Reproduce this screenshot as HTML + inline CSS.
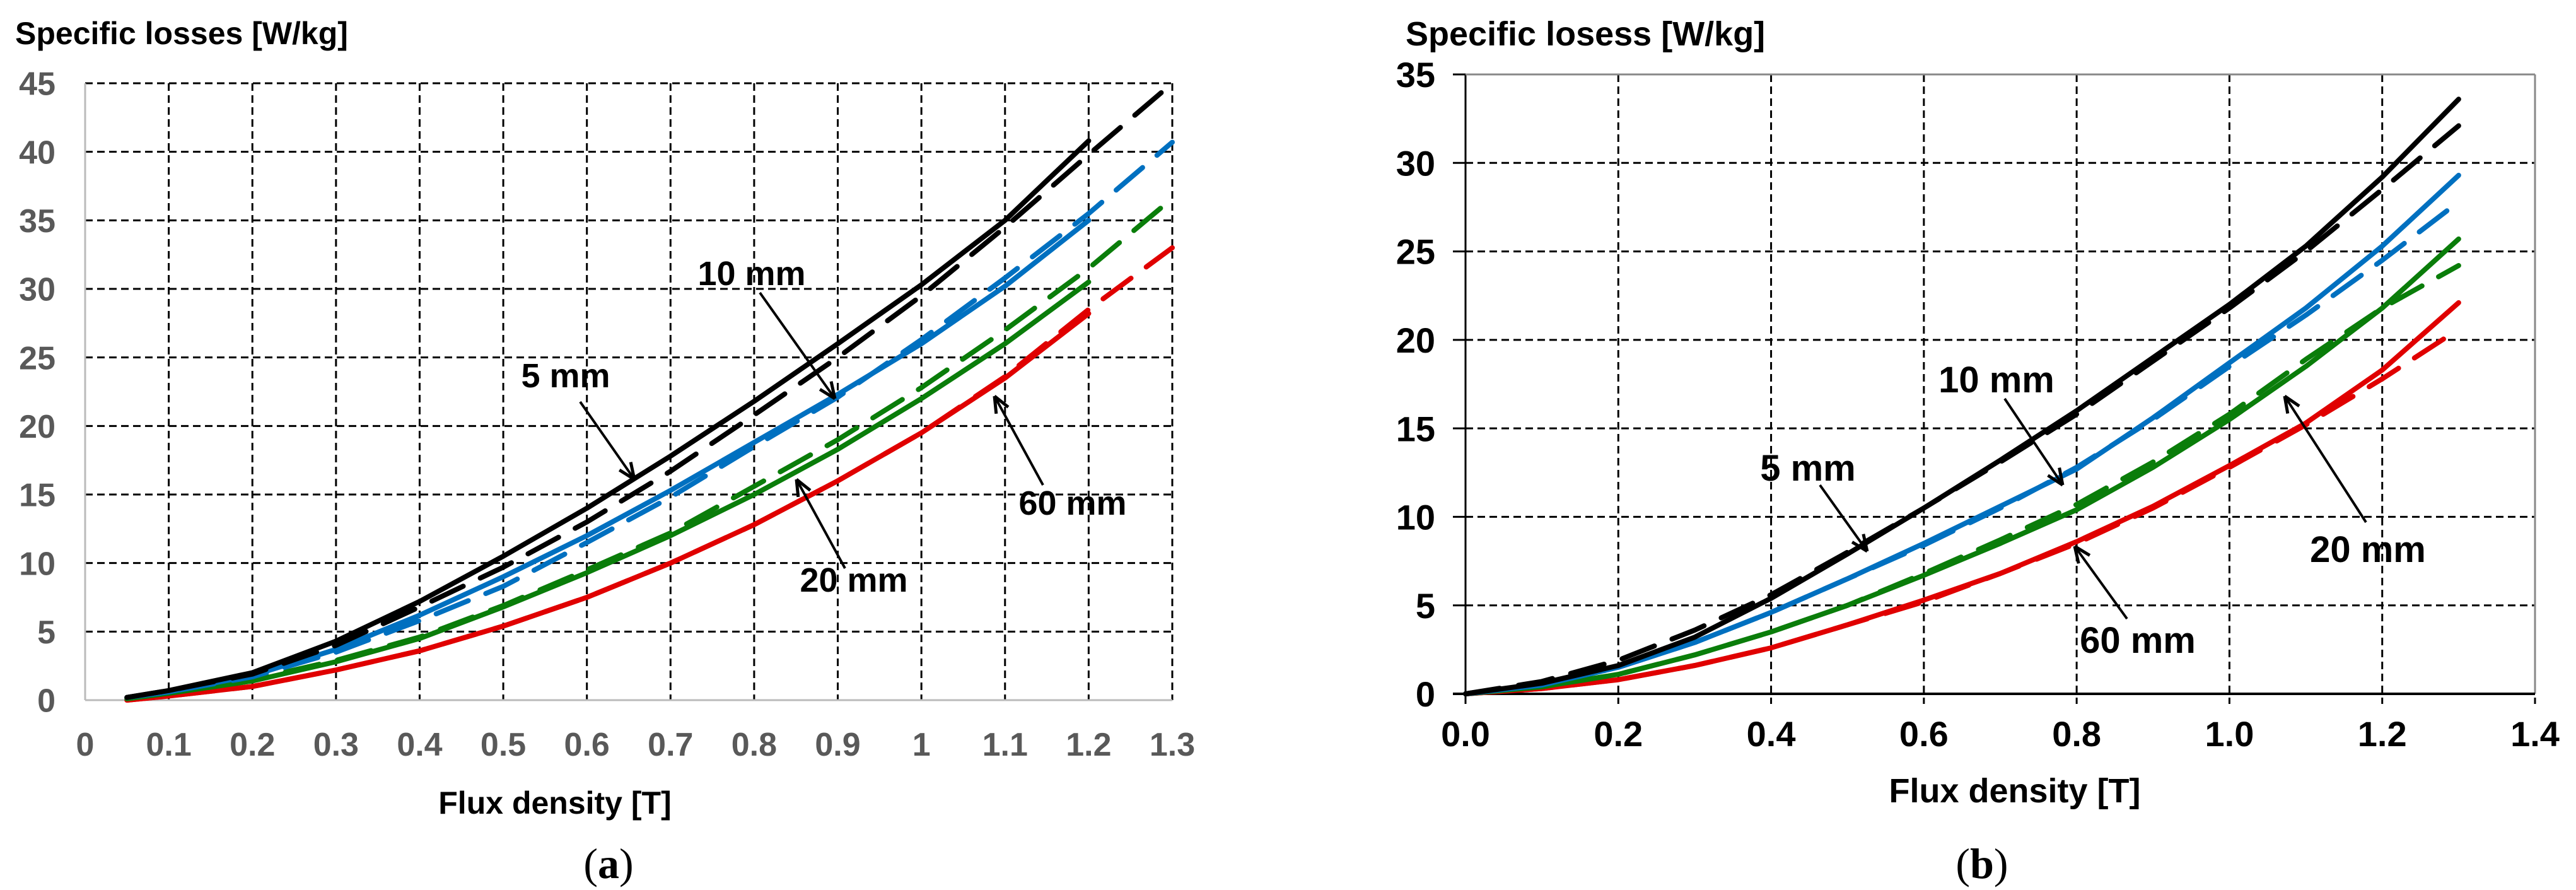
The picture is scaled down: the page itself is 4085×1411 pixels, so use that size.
<!DOCTYPE html>
<html><head><meta charset="utf-8"><style>
html,body{margin:0;padding:0;background:#fff;}
svg{display:block;}
text{font-family:"Liberation Sans Narrow","Liberation Sans",sans-serif;font-weight:bold;}
text.cap{font-family:"Liberation Serif",serif;font-weight:normal;}
</style></head><body>
<svg id="svg" width="4085" height="1411" viewBox="0 0 4085 1411" xmlns="http://www.w3.org/2000/svg">
<g id="ga"></g>
<g id="gb"></g>
</svg>
<script>
const NS="http://www.w3.org/2000/svg";
// ---- Chart A data ----
const aXTicks=["0","0.1","0.2","0.3","0.4","0.5","0.6","0.7","0.8","0.9","1","1.1","1.2","1.3"];
const aYTicks=["0","5","10","15","20","25","30","35","40","45"];
const aB=[0.05,0.1,0.2,0.3,0.4,0.5,0.6,0.7,0.8,0.9,1.0,1.1,1.2,1.3];
const a5s=[0.2,0.7,2.0,4.3,7.2,10.5,14.0,17.8,21.8,26.0,30.3,35.0,40.8];
const a5d=[0.2,0.7,1.9,4.0,6.8,9.7,13.0,16.7,20.8,25.0,29.5,34.5,39.8,45.0];
const a10s=[0.2,0.6,1.8,3.7,6.2,9.0,12.0,15.3,18.8,22.3,26.0,30.2,35.0];
const a10d=[0.2,0.6,1.7,3.5,5.8,8.3,11.5,14.8,18.5,22.1,26.3,30.8,35.5,40.7];
const a20s=[0.1,0.5,1.4,2.8,4.5,6.8,9.3,12.0,15.0,18.3,22.0,26.0,30.5];
const a20d=[0.1,0.5,1.5,2.9,4.6,6.9,9.5,12.2,15.6,19.0,22.8,27.0,31.5,36.6];
const a60s=[0.0,0.3,1.0,2.2,3.6,5.4,7.5,10.0,12.8,16.0,19.5,23.5,28.2];
const a60d=[0.0,0.3,1.0,2.2,3.6,5.4,7.5,10.0,12.8,16.0,19.5,23.6,28.5,33.0];
// ---- Chart B data ----
const bXTicks=["0.0","0.2","0.4","0.6","0.8","1.0","1.2","1.4"];
const bYTicks=["0","5","10","15","20","25","30","35"];
const bB=[0.0,0.1,0.2,0.3,0.4,0.5,0.6,0.7,0.8,0.9,1.0,1.1,1.2,1.3];
const b5s=[0,0.6,1.6,3.2,5.4,7.9,10.5,13.2,16.0,19.0,22.0,25.3,29.2,33.6];
const b5d=[0,0.7,1.9,3.6,5.6,8.0,10.5,13.1,15.8,18.8,21.8,25.0,28.5,32.1];
const b10s=[0,0.5,1.5,2.9,4.6,6.5,8.5,10.6,12.7,15.6,18.7,21.8,25.3,29.3];
const b10d=[0,0.5,1.5,2.9,4.6,6.5,8.4,10.5,12.8,15.5,18.5,21.4,24.5,27.8];
const b20s=[0,0.4,1.1,2.2,3.5,5.0,6.7,8.5,10.4,12.8,15.5,18.5,21.8,25.7];
const b20d=[0,0.4,1.1,2.2,3.5,5.0,6.8,8.7,10.7,13.1,15.8,18.9,21.8,24.2];
const b60s=[0,0.3,0.8,1.6,2.6,3.9,5.3,6.8,8.6,10.6,12.9,15.3,18.3,22.1];
const b60d=[0,0.3,0.8,1.6,2.6,3.9,5.2,6.8,8.5,10.5,12.8,15.2,17.8,20.6];

function el(p,tag,attrs,txt){const e=document.createElementNS(NS,tag);for(const k in attrs)e.setAttribute(k,attrs[k]);if(txt!==undefined)e.textContent=txt;p.appendChild(e);return e;}

function chart(g,o){
  const X=v=>o.x0+(v-o.xmin)/(o.xmax-o.xmin)*(o.x1-o.x0);
  const Y=v=>o.y0-(v/o.ymax)*(o.y0-o.y1);
  o.xt.forEach((t,i)=>{const v=o.xmin+i*o.xstep;const x=X(v);
    if(i>0){const l=el(g,'line',{x1:x,x2:x,y1:o.y1,y2:o.y0+(o.tick?16:0),stroke:'#000','stroke-width':3,'stroke-dasharray':'12,7'});
    
    }
    const tx=el(g,'text',{x:x,y:o.xly,'text-anchor':'middle','font-size':o.fs,fill:o.tc},t);
    
    
  });
  o.yt.forEach((t,i)=>{const v=i*o.ystep;const y=Y(v);
    if(i>0){const l=el(g,'line',{x1:o.x0,x2:o.x1,y1:y,y2:y,stroke:'#000','stroke-width':3,'stroke-dasharray':'12,7'});
    
    }
    if(o.tick){el(g,'line',{x1:o.x0-20,x2:o.x0,y1:y,y2:y,stroke:'#000','stroke-width':3});}
    const tx=el(g,'text',{x:o.ylx,y:y+o.fs*0.36,'text-anchor':'end','font-size':o.fs,fill:o.tc},t);
    
    
  });
  if(o.tick){el(g,'line',{x1:o.x0,x2:o.x0,y1:o.y0+16,y2:o.y1,stroke:'#000','stroke-width':3});
    el(g,'line',{x1:o.x1,x2:o.x1,y1:o.y0,y2:o.y1,stroke:'#888','stroke-width':3});
    el(g,'line',{x1:o.x0,x2:o.x1,y1:o.y1,y2:o.y1,stroke:'#888','stroke-width':3});
    el(g,'line',{x1:o.x0-20,x2:o.x1,y1:o.y0,y2:o.y0,stroke:'#000','stroke-width':4});
  } else {
    el(g,'line',{x1:o.x0,x2:o.x0,y1:o.y0,y2:o.y1,stroke:'#bbb','stroke-width':3});
    el(g,'line',{x1:o.x0,x2:o.x1,y1:o.y0,y2:o.y0,stroke:'#bbb','stroke-width':3});
  }
  o.series.forEach(s=>{
    let d='';s.v.forEach((v,i)=>{d+=(i?'L':'M')+X(o.bx[i]).toFixed(1)+','+Y(v).toFixed(1);});
    const p=el(g,'path',{d:d,fill:'none',stroke:s.c,'stroke-width':8,'stroke-linecap':'round','stroke-linejoin':'round'});
    if(s.dash)p.setAttribute('stroke-dasharray','55,30');
    
    
  });
  o.ann.forEach(a=>{
    const t=el(g,'text',{x:a.tx,y:a.ty,'text-anchor':'middle','font-size':o.afs,fill:'#000'},a.t);
    
    
    const l=el(g,'line',{x1:a.x1,y1:a.y1,x2:a.x2,y2:a.y2,stroke:'#000','stroke-width':4});
    
    
    const ang=Math.atan2(a.y2-a.y1,a.x2-a.x1),L=28,W=0.4;
    el(g,'path',{d:`M${a.x2},${a.y2}L${a.x2-L*Math.cos(ang-W)},${a.y2-L*Math.sin(ang-W)}M${a.x2},${a.y2}L${a.x2-L*Math.cos(ang+W)},${a.y2-L*Math.sin(ang+W)}`,stroke:'#000','stroke-width':5,fill:'none'});
  });
  const yt=el(g,'text',{x:o.ytx,y:o.yty,'font-size':o.tfs,fill:'#000'},o.ytitle);
  
  
  const xt=el(g,'text',{x:o.xtx,y:o.xty,'text-anchor':'middle','font-size':o.tfs,fill:'#000'},'Flux density [T]');
  
  
  const cap=el(g,'text',{x:o.capx,y:1392,'text-anchor':'middle','font-size':68,fill:'#000','class':'cap'});
  
  
  cap.innerHTML='(<tspan font-weight="bold" style="font-weight:bold">'+o.cap+'</tspan>)';
}
chart(document.getElementById('ga'),{x0:135,x1:1859,y0:1110,y1:132,xmin:0,xmax:1.3,xstep:0.1,ymax:45,ystep:5,
  xt:aXTicks,yt:aYTicks,fs:52,tc:'#595959',xly:1198,ylx:88,tick:false,bx:aB,
  series:[{v:a60d,c:'#e00000',dash:1,n:'series-60mm-dashed'},{v:a60s,c:'#e00000',n:'series-60mm-solid'},
    {v:a20d,c:'#0a7d0a',dash:1,n:'series-20mm-dashed'},{v:a20s,c:'#0a7d0a',n:'series-20mm-solid'},
    {v:a10d,c:'#0070c0',dash:1,n:'series-10mm-dashed'},{v:a10s,c:'#0070c0',n:'series-10mm-solid'},
    {v:a5d,c:'#000',dash:1,n:'series-5mm-dashed'},{v:a5s,c:'#000',n:'series-5mm-solid'}],
  ann:[{t:'10 mm',tx:1192,ty:452,x1:1205,y1:464,x2:1324,y2:632},{t:'5 mm',tx:897,ty:614,x1:920,y1:637,x2:1006,y2:760},
    {t:'60 mm',tx:1701,ty:816,x1:1654,y1:769,x2:1577,y2:628},{t:'20 mm',tx:1354,ty:938,x1:1340,y1:901,x2:1263,y2:760}],
  afs:54,tfs:50,ytitle:'Specific losses [W/kg]',ytx:24,yty:70,xtx:880,xty:1290,capx:965,cap:'a'});
chart(document.getElementById('gb'),{x0:2324,x1:4020,y0:1100,y1:118,xmin:0,xmax:1.4,xstep:0.2,ymax:35,ystep:5,
  xt:bXTicks,yt:bYTicks,fs:56,tc:'#000',xly:1183,ylx:2276,tick:true,bx:bB,
  series:[{v:b60d,c:'#e00000',dash:1,n:'series-60mm-dashed'},{v:b60s,c:'#e00000',n:'series-60mm-solid'},
    {v:b20d,c:'#0a7d0a',dash:1,n:'series-20mm-dashed'},{v:b20s,c:'#0a7d0a',n:'series-20mm-solid'},
    {v:b10d,c:'#0070c0',dash:1,n:'series-10mm-dashed'},{v:b10s,c:'#0070c0',n:'series-10mm-solid'},
    {v:b5d,c:'#000',dash:1,n:'series-5mm-dashed'},{v:b5s,c:'#000',n:'series-5mm-solid'}],
  ann:[{t:'10 mm',tx:3166,ty:622,x1:3179,y1:632,x2:3271,y2:769},{t:'5 mm',tx:2867,ty:762,x1:2886,y1:769,x2:2961,y2:874},
    {t:'20 mm',tx:3755,ty:891,x1:3752,y1:828,x2:3623,y2:628},{t:'60 mm',tx:3390,ty:1035,x1:3373,y1:981,x2:3290,y2:866}],
  afs:58,tfs:54,ytitle:'Specific losess [W/kg]',ytx:2229,yty:72,xtx:3195,xty:1272,capx:3143,cap:'b'});
</script>
</body></html>
